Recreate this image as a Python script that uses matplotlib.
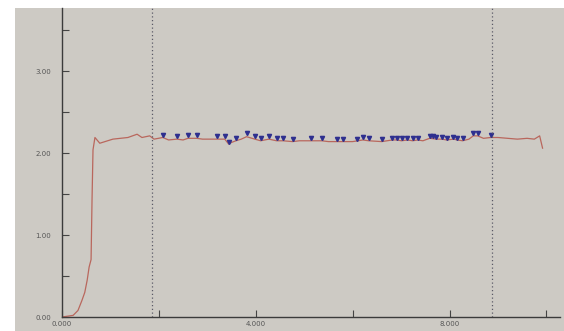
import numpy as np
import matplotlib.pyplot as plt
from matplotlib.ticker import FixedLocator

# load curve
x_line = [0.0, 0.23, 0.33, 0.41, 0.47, 0.52, 0.56, 0.60, 0.62, 0.64, 0.68, 0.78,
          1.05, 1.36, 1.55, 1.65, 1.81, 1.90, 2.08, 2.20, 2.37, 2.50, 2.60, 2.78,
          2.90, 3.20, 3.36, 3.44, 3.50, 3.59, 3.70, 3.81, 3.98, 4.10, 4.27, 4.43,
          4.56, 4.76, 4.90, 5.15, 5.36, 5.50, 5.67, 5.81, 6.00, 6.21, 6.33, 6.60,
          6.82, 6.91, 7.01, 7.13, 7.24, 7.34, 7.45, 7.59, 7.73, 7.84, 7.94, 8.08,
          8.16, 8.27, 8.40, 8.49, 8.58, 8.70, 8.85, 9.00, 9.20, 9.40, 9.60, 9.75,
          9.86, 9.92]
y_line = [0.0, 0.02, 0.08, 0.20, 0.30, 0.45, 0.61, 0.70, 1.43, 2.04, 2.19, 2.12,
          2.17, 2.19, 2.23, 2.19, 2.21, 2.17, 2.19, 2.16, 2.17, 2.16, 2.18, 2.18,
          2.17, 2.17, 2.17, 2.11, 2.13, 2.15, 2.17, 2.20, 2.17, 2.15, 2.17, 2.15,
          2.15, 2.14, 2.15, 2.15, 2.15, 2.14, 2.14, 2.14, 2.14, 2.16, 2.15, 2.14,
          2.16, 2.16, 2.15, 2.16, 2.15, 2.16, 2.15, 2.18, 2.17, 2.17, 2.16, 2.17,
          2.16, 2.15, 2.17, 2.21, 2.21, 2.18, 2.19, 2.19, 2.18, 2.17, 2.18, 2.17,
          2.21, 2.06]

# peak markers
x_mark = [2.08, 2.37, 2.60, 2.78, 3.20, 3.36, 3.44, 3.59, 3.81, 3.98, 4.10, 4.27,
          4.43, 4.56, 4.76, 5.15, 5.36, 5.67, 5.81, 6.08, 6.21, 6.33, 6.60, 6.82,
          6.91, 7.01, 7.13, 7.24, 7.34, 7.59, 7.65, 7.73, 7.84, 7.94, 8.08, 8.16,
          8.27, 8.49, 8.58, 8.85]
y_mark = [2.22, 2.21, 2.22, 2.22, 2.21, 2.21, 2.14, 2.19, 2.24, 2.21, 2.18, 2.21,
          2.18, 2.18, 2.17, 2.18, 2.18, 2.17, 2.17, 2.17, 2.20, 2.18, 2.17, 2.19,
          2.19, 2.18, 2.19, 2.18, 2.19, 2.21, 2.21, 2.20, 2.20, 2.19, 2.20, 2.18,
          2.18, 2.24, 2.24, 2.22]

cursors = [1.86, 8.87]
x_major = [0, 4, 8]
x_labels = ["0.000", "4.000", "8.000"]
x_minor = [2, 6, 10]
y_major = [0, 1, 2, 3]
y_labels = ["0.00", "1.00", "2.00", "3.00"]
y_minor = [0.5, 1.5, 2.5, 3.5]

bg = "#cdcac4"
fig = plt.figure(figsize=(5.64, 3.31), dpi=100)
fig.patch.set_facecolor("white")
# screen area (photo leaves a white strip on the left and top)
scr = fig.add_axes([15 / 564, 0, 1 - 15 / 564, 1 - 8 / 331])
scr.set_facecolor(bg)
scr.set_xticks([]); scr.set_yticks([])
for s in scr.spines.values():
    s.set_visible(False)

ax = fig.add_axes([62 / 564, 14 / 331, 498 / 564, 309 / 331])
ax.patch.set_alpha(0)
ax.set_xlim(0, 10.28)
ax.set_ylim(0, 3.77)

ax.plot(x_line, y_line, color="#b9675d", lw=0.9)
ax.plot(x_mark, y_mark, ls="none", marker="v", ms=3, color="#2e2f8f")
for c in cursors:
    ax.axvline(c, color="#5a5a66", lw=0.9, ls=(0, (1, 2)))

for s in ["top", "right"]:
    ax.spines[s].set_visible(False)
for s in ["left", "bottom"]:
    ax.spines[s].set_color("#3b3b3b")
    ax.spines[s].set_linewidth(1.0)

ax.xaxis.set_major_locator(FixedLocator(x_major))
ax.xaxis.set_minor_locator(FixedLocator(x_minor))
ax.set_xticklabels(x_labels)
ax.yaxis.set_major_locator(FixedLocator(y_major))
ax.yaxis.set_minor_locator(FixedLocator(y_minor))
ax.set_yticklabels(y_labels)
ax.tick_params(which="both", direction="in", length=5, width=0.8, color="#444444",
               labelsize=5, labelcolor="#555555")
ax.tick_params(axis="x", pad=3)
ax.tick_params(axis="y", pad=8)

fig.savefig("out.png", dpi=100)
